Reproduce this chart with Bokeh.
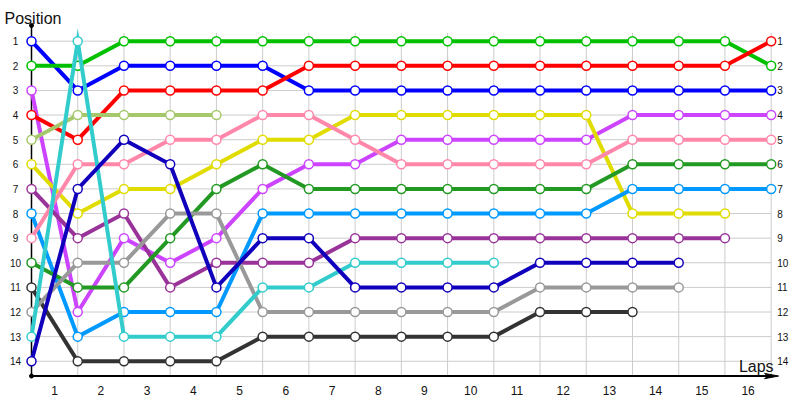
from bokeh.plotting import figure
from bokeh.models import Range1d
from bokeh.core.properties import value
from bokeh.embed import file_html
from bokeh.resources import INLINE

# ---- data: position at the end of each lap boundary (index 0 = start) ----
lap_labels = [str(i) for i in range(1, 17)]
lap_label_pos = [i + 0.5 for i in range(16)]
position_labels = [str(i) for i in range(1, 15)]
position_vals = list(range(1, 15))

blue = [1, 3, 2, 2, 2, 2, 3, 3, 3, 3, 3, 3, 3, 3, 3, 3, 3]
green = [2, 2, 1, 1, 1, 1, 1, 1, 1, 1, 1, 1, 1, 1, 1, 1, 2]
magenta = [3, 12, 9, 10, 9, 7, 6, 6, 5, 5, 5, 5, 5, 4, 4, 4, 4]
red = [4, 5, 3, 3, 3, 3, 2, 2, 2, 2, 2, 2, 2, 2, 2, 2, 1]
olive = [5, 4, 4, 4, 4]
yellow = [6, 8, 7, 7, 6, 5, 5, 4, 4, 4, 4, 4, 4, 8, 8, 8]
purple = [7, 9, 8, 11, 10, 10, 10, 9, 9, 9, 9, 9, 9, 9, 9, 9]
light_blue = [8, 13, 12, 12, 12, 8, 8, 8, 8, 8, 8, 8, 8, 7, 7, 7, 7]
pink = [9, 6, 6, 5, 5, 4, 4, 5, 6, 6, 6, 6, 6, 5, 5, 5, 5]
dark_green = [10, 11, 11, 9, 7, 6, 7, 7, 7, 7, 7, 7, 7, 6, 6, 6, 6]
dark_gray = [11, 14, 14, 14, 14, 13, 13, 13, 13, 13, 13, 12, 12, 12]
gray = [12, 10, 10, 8, 8, 12, 12, 12, 12, 12, 12, 11, 11, 11, 11]
cyan = [13, 1, 13, 13, 13, 11, 11, 10, 10, 10, 10]
dark_blue = [14, 7, 5, 6, 11, 9, 9, 11, 11, 11, 11, 10, 10, 10, 10]

series = [
    (blue, "#0000ff"),
    (green, "#00c000"),
    (magenta, "#cc44ff"),
    (red, "#ff0000"),
    (olive, "#a6c86c"),
    (yellow, "#e0dc00"),
    (purple, "#993399"),
    (light_blue, "#0099ff"),
    (pink, "#ff88aa"),
    (dark_green, "#229922"),
    (dark_gray, "#333333"),
    (gray, "#999999"),
    (cyan, "#33cccc"),
    (dark_blue, "#1100bb"),
]

# ---- layout constants ----
N_POINTS = 17
AXIS_TOP = 0.36
AXIS_BOTTOM = 14.6
X_AXIS_END = 16.16
GRID_TOP = 0.66
PX_X = 46.23   # pixels per lap
PX_Y = 24.62   # pixels per position
W, H = 800, 400
X0_PX, Y1_PX = 31, 40.7

p = figure(width=W, height=H,
           x_range=Range1d(-X0_PX / PX_X, (W - X0_PX) / PX_X),
           y_range=Range1d(1 + (H - Y1_PX) / PX_Y, 1 - Y1_PX / PX_Y),
           x_axis_type=None, y_axis_type=None,
           toolbar_location=None, output_backend="svg",
           min_border=0, title=None)
p.outline_line_color = None
p.background_fill_color = "white"
p.border_fill_color = "white"

grid_color = "#cccccc"
# vertical grid lines
xs = list(range(1, N_POINTS))
p.segment(x0=xs, y0=[GRID_TOP] * len(xs), x1=xs, y1=[AXIS_BOTTOM] * len(xs),
          line_color=grid_color, line_width=1)
# horizontal grid lines
p.segment(x0=[0] * len(position_vals), y0=position_vals,
          x1=[N_POINTS - 1] * len(position_vals), y1=position_vals,
          line_color=grid_color, line_width=1)

# axes
p.segment(x0=[0], y0=[AXIS_TOP], x1=[0], y1=[AXIS_BOTTOM], line_color="black", line_width=1.5)
p.segment(x0=[0], y0=[AXIS_BOTTOM], x1=[X_AXIS_END - 0.1], y1=[AXIS_BOTTOM], line_color="black", line_width=2)
p.scatter(x=[0, 0], y=[AXIS_TOP, AXIS_BOTTOM], size=4, color="black")
ah_len = 14 / PX_X
ah_w = 2.6 / PX_Y
p.patch(x=[X_AXIS_END, X_AXIS_END - ah_len, X_AXIS_END - ah_len * 0.75, X_AXIS_END - ah_len],
        y=[AXIS_BOTTOM, AXIS_BOTTOM - ah_w, AXIS_BOTTOM, AXIS_BOTTOM + ah_w],
        color="black")

# series lines and markers
for vals, col in series:
    x = list(range(len(vals)))
    p.line(x=x, y=vals, line_color=col, line_width=4, line_join="miter")
    p.scatter(x=x, y=vals, size=9, marker="circle", fill_color="white",
              line_color=col, line_width=1.5)

font = value("Liberation Sans")
# left position labels
p.text(x=[0] * len(position_vals), y=position_vals, text=position_labels,
       x_offset=-16, text_align="center", text_baseline="middle",
       text_font=font, text_font_size=value("10px"), text_color="#111111")
# right position labels
p.text(x=[N_POINTS - 1] * len(position_vals), y=position_vals, text=position_labels,
       x_offset=6, text_align="left", text_baseline="middle",
       text_font=font, text_font_size=value("10px"), text_color="#111111")
# lap labels
p.text(x=lap_label_pos, y=[AXIS_BOTTOM] * len(lap_label_pos), text=lap_labels,
       y_offset=14, text_align="center", text_baseline="middle",
       text_font=font, text_font_size=value("12px"), text_color="#111111")
# axis titles
p.text(x=[0], y=[AXIS_TOP], text=["Position"], x_offset=-27, y_offset=-7,
       text_align="left", text_baseline="alphabetic",
       text_font=font, text_font_size=value("16px"), text_color="#111111")
p.text(x=[X_AXIS_END], y=[AXIS_BOTTOM], text=["Laps"], x_offset=-5, y_offset=-10,
       text_align="right", text_baseline="alphabetic",
       text_font=font, text_font_size=value("16px"), text_color="#111111")

open("out.html", "w").write(file_html(p, INLINE))
